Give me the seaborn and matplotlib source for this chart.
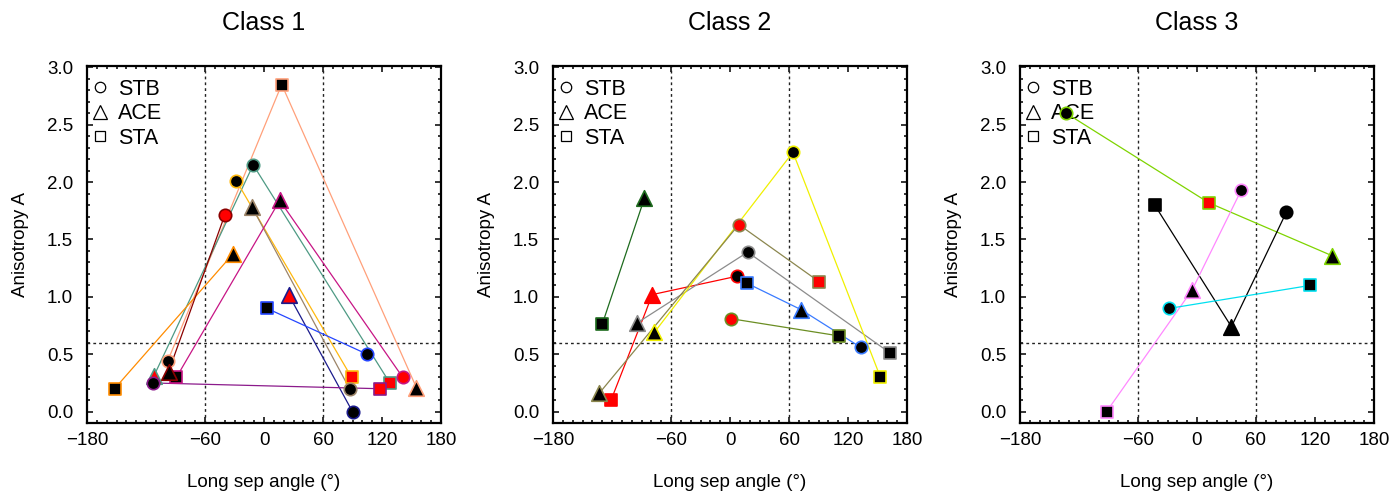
import matplotlib
matplotlib.use("Agg")
import matplotlib.pyplot as plt
import numpy as np
import pandas as pd
import seaborn as sns
from matplotlib.lines import Line2D
from matplotlib.ticker import MultipleLocator, FixedLocator

# ---------------- data ----------------
panel_titles = ["Class 1", "Class 2", "Class 3"]
instruments = ["STB", "ACE", "STA"]
x_ticks = [-180, -60, 0, 60, 120, 180]
y_ticks = [0.0, 0.5, 1.0, 1.5, 2.0, 2.5, 3.0]

# Class 1 (one entry per measured point)
c1_event = [0, 0, 0, 1, 1, 1, 2, 2, 3, 3, 4, 4, 5, 5, 5, 6, 6, 7, 7, 8, 8, 9, 9]
c1_inst = ["STB", "STA", "ACE", "STB", "ACE", "STA", "ACE", "STA", "STB", "STA",
           "ACE", "STB", "ACE", "STB", "STA", "STB", "ACE", "ACE", "STB", "STA",
           "STB", "STB", "STA"]
c1_angle = [-98, 18, 155, -11, -112, 128, -32, -152, -28, 89, -12, 87, 16, 141,
            -89, -40, -97, 25, 90, 3, 105, -113, 118]
c1_aniso = [0.44, 2.85, 0.21, 2.15, 0.31, 0.25, 1.37, 0.20, 2.01, 0.30, 1.78, 0.20,
            1.84, 0.30, 0.30, 1.71, 0.35, 1.02, 0.00, 0.90, 0.50, 0.25, 0.20]
c1_fill = ["k", "k", "k", "k", "r", "r", "k", "k", "k", "r", "k", "k", "k", "r",
           "k", "r", "k", "r", "k", "k", "k", "k", "r"]
c1_colors = ["#FFA07A", "#4E9A84", "#FF8C00", "#FFB90F", "#9C8468", "#C71585",
             "#8B0000", "#1A1A8C", "#2546FF", "#8B1A8B"]

# Class 2
c2_event = [0, 0, 1, 1, 1, 2, 2, 2, 3, 3, 3, 4, 4, 4, 5, 5, 5, 6, 6]
c2_inst = ["STA", "ACE", "STA", "ACE", "STB", "ACE", "STB", "STA", "ACE", "STB",
           "STA", "ACE", "STB", "STA", "STA", "ACE", "STB", "STB", "STA"]
c2_angle = [-130, -87, -121, -79, 7, -95, 18, 163, -77, 64, 153, -133, 9, 91,
            17, 72, 133, 1, 111]
c2_aniso = [0.76, 1.86, 0.10, 1.02, 1.18, 0.77, 1.39, 0.51, 0.69, 2.26, 0.30,
            0.16, 1.63, 1.13, 1.12, 0.89, 0.56, 0.81, 0.66]
c2_fill = ["k", "k", "r", "r", "k", "k", "k", "k", "k", "k", "k", "k", "r", "r",
           "k", "k", "k", "r", "k"]
c2_colors = ["#1E6B1E", "#FF0000", "#8C8C8C", "#F0F000", "#8B864E", "#3A7BFF",
             "#6B8E23"]

# Class 3
c3_event = [0, 0, 0, 1, 1, 1, 2, 2, 2, 3, 3]
c3_inst = ["STB", "STA", "ACE", "STA", "ACE", "STB", "STA", "ACE", "STB", "STB", "STA"]
c3_angle = [-133, 12, 137, -43, 35, 91, -92, -5, 45, -28, 115]
c3_aniso = [2.60, 1.82, 1.36, 1.80, 0.74, 1.74, 0.00, 1.06, 1.93, 0.90, 1.10]
c3_fill = ["k", "r", "k", "k", "k", "k", "k", "k", "k", "k", "k"]
c3_colors = ["#7FD400", "#000000", "#FF88FF", "#00E0F0"]

panels = [
    (c1_event, c1_inst, c1_angle, c1_aniso, c1_fill, c1_colors),
    (c2_event, c2_inst, c2_angle, c2_aniso, c2_fill, c2_colors),
    (c3_event, c3_inst, c3_angle, c3_aniso, c3_fill, c3_colors),
]

# ---------------- style ----------------
sns.set_theme(style="ticks")
plt.rcParams['font.family'] = ['Liberation Sans', 'DejaVu Sans']
plt.rcParams.update({"text.color": "black", "axes.labelcolor": "black",
                     "xtick.color": "black", "ytick.color": "black",
                     "axes.edgecolor": "black"})

marker_of = {"STB": "o", "ACE": "^", "STA": "s"}
size_of = {"STB": 80, "ACE": 125, "STA": 80}
fill_of = {"k": "#000000", "r": "#FF0000"}

fig = plt.figure(figsize=(13.93, 4.93), dpi=100)
lefts = [87 / 1393, 553 / 1393, 1020 / 1393]
width = 354 / 1393
bottom = 1 - 422.7 / 493
height = (422.7 - 65.7) / 493

for i, (ev, inst, ang, an, fl, cols) in enumerate(panels):
    ax = fig.add_axes([lefts[i], bottom, width, height])
    df = pd.DataFrame({"event": ev, "inst": inst, "angle": ang, "A": an, "fill": fl})

    # reference lines
    for xv in (-60, 60):
        ax.axvline(xv, color="#222222", lw=1.0, ls=(0, (2, 2.2)), zorder=0.6)
    ax.axhline(0.6, color="#222222", lw=1.0, ls=(0, (2, 2.2)), zorder=0.6)

    # lines per event, connecting points ordered by angle
    for e, g in df.groupby("event"):
        g = g.sort_values("angle")
        sns.lineplot(data=g, x="angle", y="A", ax=ax, color=cols[e], lw=0.9,
                     sort=True, estimator=None, zorder=1)

    # markers
    for _, r in df.iterrows():
        sns.scatterplot(x=[r["angle"]], y=[r["A"]], ax=ax,
                        marker=marker_of[r["inst"]], s=size_of[r["inst"]],
                        color=fill_of[r["fill"]], edgecolor=cols[r["event"]],
                        linewidth=1.2, zorder=3)

    ax.set_xlim(-180, 180)
    ax.set_ylim(-0.096, 3.014)
    ax.xaxis.set_major_locator(FixedLocator(x_ticks))
    ax.xaxis.set_minor_locator(MultipleLocator(10))
    ax.set_xticklabels([str(t) if t >= 0 else "\u2212" + str(-t) for t in x_ticks])
    ax.yaxis.set_major_locator(FixedLocator(y_ticks))
    ax.yaxis.set_minor_locator(MultipleLocator(0.1))
    ax.set_yticklabels([f"{t:.1f}" for t in y_ticks])
    ax.tick_params(which="both", direction="in", top=True, right=True,
                   color="black", width=1.1)
    ax.tick_params(which="major", length=4.5, labelsize=13.5)
    ax.tick_params(axis="x", which="major", pad=7)
    ax.tick_params(axis="y", which="major", pad=10)
    ax.tick_params(which="minor", length=2.4)
    for sp in ax.spines.values():
        sp.set_visible(True)
        sp.set_linewidth(1.6)
        sp.set_color("black")

    ax.set_title(panel_titles[i], fontsize=18, pad=26, color="black")
    ax.set_xlabel("Long sep angle (\u00b0)", fontsize=13.5, labelpad=18)
    ax.set_ylabel("Anisotropy A", fontsize=13.5, labelpad=13)

    handles = [Line2D([], [], ls="none", marker=marker_of[k], mfc="white",
                      mec="black", mew=0.9, ms=(7.5 if k != "ACE" else 9.5))
               for k in instruments]
    leg = ax.legend(handles, instruments, loc="upper left",
                    bbox_to_anchor=(0.0, 0.982), frameon=False,
                    fontsize=15.5, handlelength=0.6, handletextpad=0.53,
                    labelspacing=0.17, borderaxespad=0.0, borderpad=0.3)
    leg.set_zorder(0.5)

fig.savefig("out.png", dpi=100)
